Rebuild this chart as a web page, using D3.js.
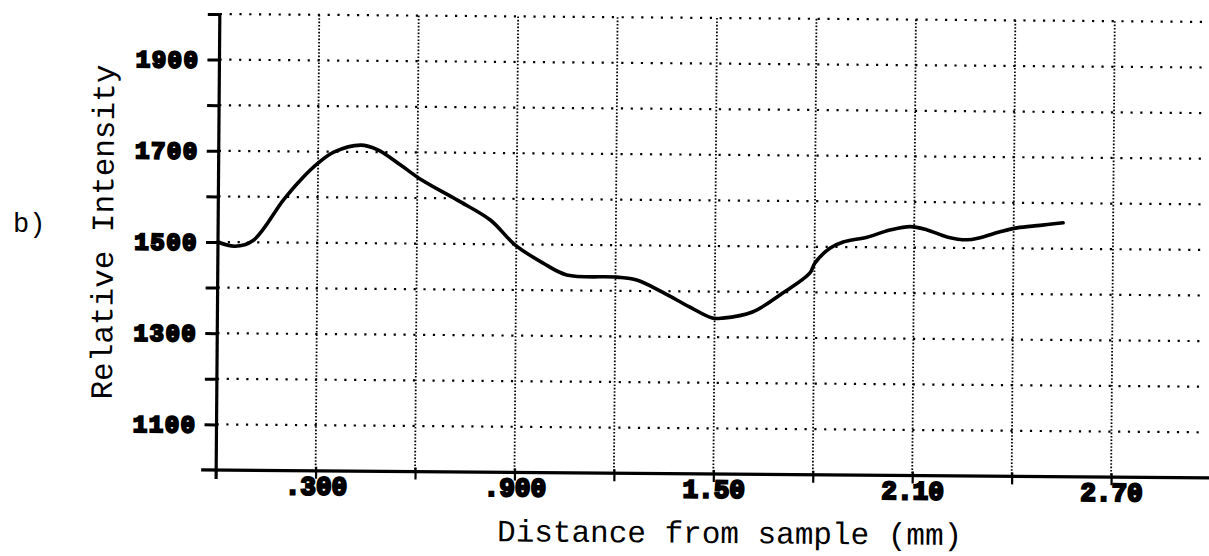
<!DOCTYPE html>
<html>
<head>
<meta charset="utf-8">
<script src="https://cdn.jsdelivr.net/npm/d3@7"></script>
<style>
  html, body { margin: 0; padding: 0; background: #fff; }
  svg { display: block; }
</style>
</head>
<body>
<svg id="chart" width="1209" height="556"></svg>
<script>
// ---- data ----
const distanceMm = [0.000, 0.051, 0.106, 0.196, 0.247, 0.299, 0.347, 0.428, 0.480, 0.549,
  0.612, 0.721, 0.821, 0.896, 0.980, 1.053, 1.204, 1.264, 1.342, 1.424,
  1.493, 1.524, 1.614, 1.705, 1.786, 1.801, 1.846, 1.886, 1.958, 2.027,
  2.088, 2.139, 2.199, 2.260, 2.299, 2.359, 2.410, 2.480, 2.549];
const intensity = [1500, 1491, 1504, 1593, 1637, 1674, 1699, 1715, 1705, 1672,
  1640, 1596, 1553, 1499, 1460, 1434, 1430, 1424, 1398, 1366,
  1342, 1342, 1356, 1398, 1442, 1464, 1497, 1511, 1522, 1538,
  1546, 1539, 1524, 1518, 1523, 1536, 1545, 1551, 1557];
const xTickValues = [0.3, 0.6, 0.9, 1.2, 1.5, 1.8, 2.1, 2.4, 2.7];
const xTickLabels = { "0.3": ".300", "0.9": ".900", "1.5": "1.50", "2.1": "2.10", "2.7": "2.70" };
const yTickValues = [1100, 1200, 1300, 1400, 1500, 1600, 1700, 1800, 1900, 2000];
const yTickLabels = { "1100": "1100", "1300": "1300", "1500": "1500", "1700": "1700", "1900": "1900" };
const xTitle = "Distance from sample (mm)";
const yTitle = "Relative Intensity";
const panelLabel = "b)";

// ---- layout ----
const svg = d3.select("#chart");
const plotLeft = 218, plotTop = 14, plotBottom = 470;
const x = d3.scaleLinear().domain([0, 3.0]).range([plotLeft, plotLeft + 994.4]);
const y = d3.scaleLinear().domain([1000, 2000]).range([plotBottom, plotTop]);
const mono = "'Liberation Mono', 'DejaVu Sans Mono', monospace";

const g = svg.append("g").attr("transform", `rotate(0.46, ${plotLeft}, 242)`);

// gridlines
g.append("g").selectAll("line").data(yTickValues).join("line")
  .attr("x1", plotLeft).attr("x2", 1205)
  .attr("y1", d => y(d)).attr("y2", d => y(d))
  .attr("stroke", "#000").attr("stroke-width", 2.2)
  .attr("stroke-dasharray", "2.2,7.6");
g.append("g").selectAll("line").data(xTickValues).join("line")
  .attr("x1", d => x(d)).attr("x2", d => x(d))
  .attr("y1", plotTop).attr("y2", plotBottom)
  .attr("stroke", "#000").attr("stroke-width", 1.8)
  .attr("stroke-dasharray", "1.6,1.8");

// x axis
const xAxis = d3.axisBottom(x).tickValues(xTickValues)
  .tickFormat(d => xTickLabels[String(Math.round(d * 10) / 10)] || "")
  .tickSize(8);
const xg = g.append("g").attr("transform", `translate(0,${plotBottom})`).call(xAxis);
xg.select(".domain").remove();
xg.selectAll(".tick line").attr("y1", -4).attr("stroke", "#000").attr("stroke-width", 2.2);
xg.selectAll(".tick text")
  .attr("font-family", mono).attr("font-weight", "bold").attr("font-size", 26)
  .attr("fill", "#000").attr("stroke", "#000").attr("stroke-width", 2.2)
  .attr("y", 5).attr("dy", "0.72em");
g.append("line").attr("x1", 203).attr("x2", 1215).attr("y1", plotBottom).attr("y2", plotBottom)
  .attr("stroke", "#000").attr("stroke-width", 3.2);

// y axis
const yAxis = d3.axisLeft(y).tickValues(yTickValues)
  .tickFormat(d => yTickLabels[String(d)] || "")
  .tickSize(12).tickPadding(8);
const yg = g.append("g").attr("transform", `translate(${plotLeft},0)`).call(yAxis);
yg.select(".domain").remove();
yg.selectAll(".tick line").attr("stroke", "#000").attr("stroke-width", 3);
yg.selectAll(".tick text")
  .attr("font-family", mono).attr("font-weight", "bold").attr("font-size", 24)
  .attr("letter-spacing", 1.5)
  .attr("fill", "#000").attr("stroke", "#000").attr("stroke-width", 2.2);
g.append("line").attr("x1", plotLeft).attr("x2", plotLeft).attr("y1", plotTop).attr("y2", plotBottom + 9)
  .attr("stroke", "#000").attr("stroke-width", 3.2);

// data line
const line = d3.line().x((d, i) => x(distanceMm[i])).y(d => y(d)).curve(d3.curveCatmullRom.alpha(0.5));
g.append("path").datum(intensity).attr("d", line)
  .attr("fill", "none").attr("stroke", "#000").attr("stroke-width", 3.6)
  .attr("stroke-linejoin", "round").attr("stroke-linecap", "round");

// titles
g.append("text").attr("x", 732).attr("y", 539).attr("text-anchor", "middle")
  .attr("font-family", mono).attr("font-size", 31).attr("fill", "#000").text(xTitle);
g.append("text").attr("transform", "translate(113,233) rotate(-90)").attr("text-anchor", "middle")
  .attr("font-family", mono).attr("font-size", 31).attr("fill", "#000").text(yTitle);
svg.append("text").attr("x", 13).attr("y", 232)
  .attr("font-family", mono).attr("font-size", 27).attr("fill", "#000").text(panelLabel);
</script>
</body>
</html>
